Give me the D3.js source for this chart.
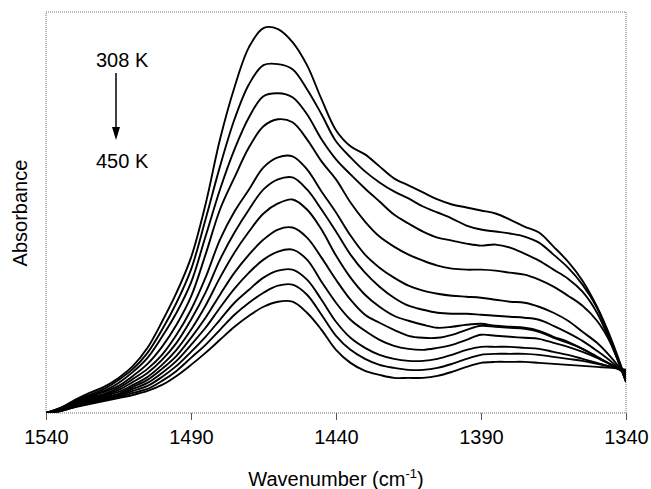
<!DOCTYPE html>
<html>
<head>
<meta charset="utf-8">
<script src="https://cdn.jsdelivr.net/npm/d3@7"></script>
<style>
  html, body { margin: 0; padding: 0; background: #fff; }
  svg { display: block; font-family: "Liberation Sans", Arial, sans-serif; }
</style>
</head>
<body>
<svg id="chart" width="651" height="489"></svg>
<script>
// Wavenumber grid (cm^-1), high to low
const wavenumbers = [1540,1535,1530,1525,1520,1515,1510,1505,1500,1495,1490,1485,1480,1475,1470,1465,1460,1455,1450,1445,1440,1435,1430,1425,1420,1415,1410,1405,1400,1395,1390,1385,1380,1375,1370,1365,1360,1355,1350,1345,1340];

// Absorbance (mA.U.) per spectrum, from 308 K (first) to 450 K (last)
const spec01 = [0,5,13,20,26,35,47,65,91,120,155,208,273,325,365,384,383,370,347,313,282,266,258,246,234,227,220,213,208,205,202,199,193,186,180,166,151,132,106,73,33];
const spec02 = [0,5,12,18,24,33,44,60,83,110,143,193,246,293,328,347,348,343,323,298,271,255,241,230,221,214,206,200,194,187,183,181,179,176,170,158,145,128,105,70,31];
const spec03 = [0,4,11,17,22,30,41,55,76,100,130,176,223,263,295,316,319,315,298,273,253,238,224,211,198,189,181,175,172,169,167,168,165,159,152,143,134,121,100,68,31];
const spec04 = [0,4,10,16,21,27,37,49,66,88,116,158,203,235,265,286,293,290,273,251,233,210,191,176,166,158,152,147,144,143,143,142,140,138,133,126,117,107,92,68,32];
const spec05 = [0,4,9,15,19,25,34,44,58,78,103,135,173,201,223,245,255,256,243,221,200,177,158,145,135,127,122,119,117,116,115,113,111,110,106,100,92,81,70,55,37];
const spec06 = [0,3,9,14,18,23,31,40,53,70,93,120,153,180,203,223,233,235,223,203,181,158,140,126,115,107,103,100,99,99,98,97,96,95,93,87,80,72,62,51,38];
const spec07 = [0,3,8,13,17,21,28,36,48,63,83,107,135,160,181,199,209,213,203,183,157,135,118,106,97,92,88,85,86,88,89,87,86,85,82,76,71,64,56,48,39];
const spec08 = [0,3,8,12,16,19,26,33,44,57,75,95,118,140,158,173,183,185,175,155,133,113,98,90,83,77,75,75,78,83,87,86,85,84,81,75,70,64,56,48,40];
const spec09 = [0,3,7,11,15,18,24,30,40,52,68,85,105,124,140,153,161,163,153,131,110,93,82,73,67,64,63,65,68,73,78,77,76,75,74,70,66,61,55,48,41];
const spec10 = [0,2,7,10,14,17,22,27,36,47,61,76,93,110,123,135,142,143,133,113,91,75,65,58,54,52,52,54,58,63,66,66,66,65,64,61,58,54,50,46,42];
const spec11 = [0,2,6,10,13,16,20,24,32,42,55,68,83,98,110,120,127,128,118,98,77,63,54,48,45,43,43,45,49,54,58,59,59,59,58,56,54,52,49,46,43];
const spec12 = [0,2,6,9,12,15,18,22,28,37,48,60,73,86,97,106,111,111,100,83,63,50,42,38,35,35,35,37,41,46,50,51,51,51,50,49,48,47,46,45,43];

const spectra = [spec01, spec02, spec03, spec04, spec05, spec06, spec07, spec08, spec09, spec10, spec11, spec12];

const xTicks = [1540, 1490, 1440, 1390, 1340];
const tempStart = "308 K";
const tempEnd = "450 K";

const svg = d3.select("#chart");
const plot = { left: 46, right: 626, top: 12, bottom: 413 };

const x = d3.scaleLinear().domain([1540, 1340]).range([plot.left, plot.right]);
const y = d3.scaleLinear().domain([0, 400]).range([plot.bottom, plot.top]);

// clip spectra to the plotting frame
svg.append("clipPath").attr("id", "plotClip")
  .append("rect")
  .attr("x", plot.left).attr("y", plot.top)
  .attr("width", plot.right - plot.left).attr("height", plot.bottom - plot.top);

// dotted frame
svg.append("rect")
  .attr("x", plot.left).attr("y", plot.top)
  .attr("width", plot.right - plot.left).attr("height", plot.bottom - plot.top)
  .attr("fill", "none")
  .attr("stroke", "#6e6e6e")
  .attr("stroke-width", 1)
  .attr("stroke-dasharray", "1,1");

// bottom axis
const xAxis = d3.axisBottom(x)
  .tickValues(xTicks)
  .tickFormat(d3.format("d"))
  .tickSize(7)
  .tickPadding(10);

const gx = svg.append("g")
  .attr("transform", `translate(0,${plot.bottom})`)
  .call(xAxis);
gx.select(".domain").remove();
gx.selectAll(".tick line").attr("stroke", "#555").attr("stroke-width", 1);
gx.selectAll(".tick text")
  .attr("fill", "#000")
  .style("font-size", "20px")
  .style("font-family", "'Liberation Sans', Arial, sans-serif");

// spectra
const line = d3.line()
  .x((d, i) => x(wavenumbers[i]))
  .y(d => y(d))
  .curve(d3.curveCatmullRom.alpha(0.5));

svg.append("g")
  .attr("clip-path", "url(#plotClip)")
  .selectAll("path")
  .data(spectra)
  .join("path")
  .attr("d", line)
  .attr("fill", "none")
  .attr("stroke", "#000")
  .attr("stroke-width", 1.9)
  .attr("stroke-linejoin", "round");

// axis titles
const xt = svg.append("text")
  .attr("x", 336)
  .attr("y", 486)
  .attr("text-anchor", "middle")
  .style("font-size", "20px")
  .attr("fill", "#000");
xt.append("tspan").text("Wavenumber (cm");
xt.append("tspan").text("-1").attr("dy", -8).style("font-size", "13px");
xt.append("tspan").text(")").attr("dy", 8);

svg.append("text")
  .attr("transform", "translate(27,213) rotate(-90)")
  .attr("text-anchor", "middle")
  .style("font-size", "20px")
  .attr("fill", "#000")
  .text("Absorbance");

// temperature annotation with arrow
svg.append("text")
  .attr("x", 96).attr("y", 67)
  .style("font-size", "20px")
  .attr("fill", "#000")
  .text(tempStart);

svg.append("text")
  .attr("x", 96).attr("y", 168)
  .style("font-size", "20px")
  .attr("fill", "#000")
  .text(tempEnd);

svg.append("line")
  .attr("x1", 116).attr("x2", 116)
  .attr("y1", 73).attr("y2", 130)
  .attr("stroke", "#000")
  .attr("stroke-width", 1.5);

svg.append("path")
  .attr("d", "M112,127 L120,127 L116,140 Z")
  .attr("fill", "#000");
</script>
</body>
</html>
